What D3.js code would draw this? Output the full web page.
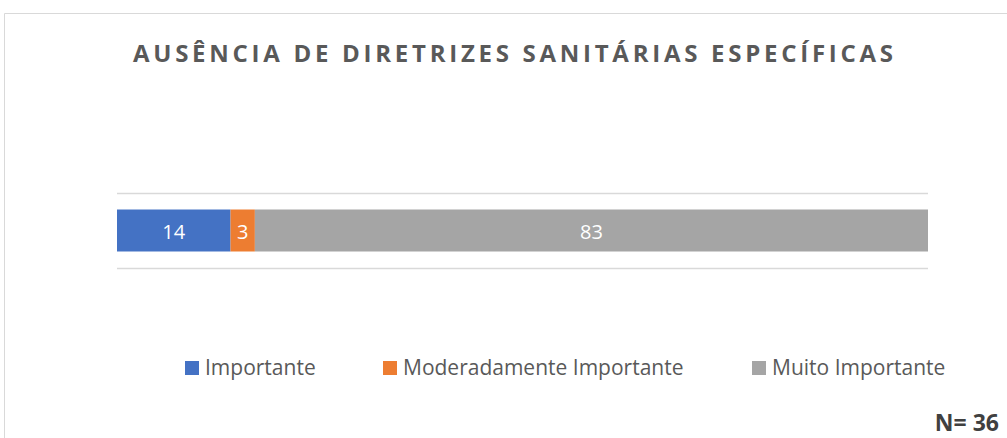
<!DOCTYPE html>
<html>
<head>
<meta charset="utf-8">
<script src="https://cdn.jsdelivr.net/npm/d3@7"></script>
<style>
  body { margin: 0; background: #fff; }
  text { font-family: "Open Sans", "Liberation Sans", sans-serif; }
</style>
</head>
<body>
<div id="chart"></div>
<script>
// data
var title = "AUSÊNCIA DE DIRETRIZES SANITÁRIAS ESPECÍFICAS"
var categories = ["Ausência de diretrizes sanitárias específicas"]
var seriesNames = ["Importante", "Moderadamente Importante", "Muito Importante"]
var seriesValues = [14, 3, 83]
var seriesColors = ["#4472c4", "#ed7d31", "#a5a5a5"]
var sampleLabel = "N= 36"

var width = 1007, height = 438

var svg = d3.select("#chart").append("svg")
  .attr("width", width)
  .attr("height", height)

// chart frame (cut off on right and bottom)
svg.append("path")
  .attr("d", "M4.5," + height + " V13.5 H" + width)
  .attr("fill", "none")
  .attr("stroke", "#d9d9d9")
  .attr("stroke-width", 1)

svg.append("text")
  .attr("x", 513)
  .attr("y", 62)
  .attr("text-anchor", "middle")
  .attr("font-size", 24)
  .attr("font-weight", "bold")
  .attr("fill", "#595959")
  .attr("textLength", 760)
  .attr("lengthAdjust", "spacing")
  .text(title)

var x = d3.scaleLinear().domain([0, 100]).range([117, 928])
var y = d3.scaleBand().domain(categories).range([193, 268]).paddingInner(0).paddingOuter(0.393)

// gridlines at category band edges
svg.append("g").selectAll("line")
  .data([193, 268])
  .enter().append("line")
  .attr("x1", x(0)).attr("x2", x(100))
  .attr("y1", d => d + 0.5).attr("y2", d => d + 0.5)
  .attr("stroke", "#d9d9d9")
  .attr("stroke-width", 1.5)

var stacked = []
var acc = 0
seriesValues.forEach((v, i) => {
  stacked.push({ name: seriesNames[i], value: v, x0: acc, x1: acc + v, color: seriesColors[i] })
  acc += v
})

var bars = svg.append("g")
bars.selectAll("rect")
  .data(stacked)
  .enter().append("rect")
  .attr("x", d => x(d.x0))
  .attr("width", d => x(d.x1) - x(d.x0))
  .attr("y", y(categories[0]))
  .attr("height", y.bandwidth())
  .attr("fill", d => d.color)

bars.selectAll("text")
  .data(stacked)
  .enter().append("text")
  .attr("x", d => (x(d.x0) + x(d.x1)) / 2)
  .attr("y", 239)
  .attr("text-anchor", "middle")
  .attr("font-size", 20)
  .attr("fill", "#fff")
  .text(d => d.value)

// legend
var legendX = [185, 383, 752]
var legend = svg.append("g").selectAll("g")
  .data(seriesNames)
  .enter().append("g")
  .attr("transform", (d, i) => "translate(" + legendX[i] + ",361)")
legend.append("rect")
  .attr("width", 14).attr("height", 14)
  .attr("fill", (d, i) => seriesColors[i])
legend.append("text")
  .attr("x", 20)
  .attr("y", 14)
  .attr("font-size", 21)
  .attr("fill", "#595959")
  .text(d => d)

svg.append("text")
  .attr("x", 999)
  .attr("y", 431)
  .attr("text-anchor", "end")
  .attr("font-size", 23)
  .attr("font-weight", "bold")
  .attr("fill", "#404040")
  .text(sampleLabel)
</script>
</body>
</html>
